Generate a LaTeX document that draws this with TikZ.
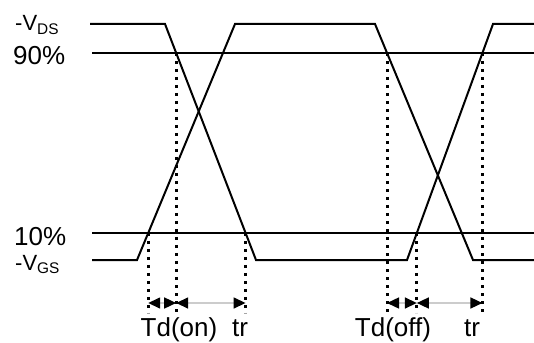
\documentclass[tikz,border=0pt]{standalone}
\usepackage{tkz-euclide}
\usepackage{fontspec}
\setmainfont{Liberation Sans}
\usetikzlibrary{arrows.meta}

\tikzset{
    wave/.style = {line width=2pt, line join=miter},
    dotline/.style = {line width=3pt, dash pattern=on 3pt off 5pt},
    span/.style = {line width=1.5pt, gray!40, {Triangle[length=12pt, width=11pt, black]}-{Triangle[length=12pt, width=11pt, black]}},
    lbl/.style = {inner sep=0pt, font=\fontsize{26}{30}\selectfont},
    vlbl/.style = {inner sep=0pt, font=\fontsize{22}{26}\selectfont},
}

\begin{document}
\begin{tikzpicture}[x=1pt, y=-1pt]
    \useasboundingbox (0,0) rectangle (534,342);
    \tkzDefPoints{90/24/D1, 165/24/D2, 256/260/D3, 407/260/D4, 493/24/D5, 534/24/D6}
    \tkzDefPoints{92/260/G1, 137/260/G2, 235/24/G3, 375/24/G4, 473/260/G5, 534/260/G6}
    \tkzDefPoints{92/53/H1, 534/53/H2, 92/233/L1, 534/233/L2}
    \tkzDefPoints{0/313/B, 0/303/R}
    % crossings with the 90% and 10% lines
    \coordinate (T1) at (intersection of D2--D3 and H1--H2);
    \coordinate (T2) at (intersection of G2--G3 and L1--L2);
    \coordinate (T3) at (intersection of D2--D3 and L1--L2);
    \coordinate (T4) at (intersection of G4--G5 and H1--H2);
    \coordinate (T5) at (intersection of D4--D5 and L1--L2);
    \coordinate (T6) at (intersection of D4--D5 and H1--H2);
    \draw[wave] (D1) -- (D2) -- (D3) -- (D4) -- (D5) -- (D6);
    \draw[wave] (G1) -- (G2) -- (G3) -- (G4) -- (G5) -- (G6);
    \draw[wave] (H1) -- (H2);
    \draw[wave] (L1) -- (L2);
    \foreach \p in {T1,T2,T3,T4,T5,T6}
        \draw[dotline] (\p) -- (\p |- B);
    \draw[span] (T2 |- R) -- (T1 |- R);
    \draw[span] (T1 |- R) -- (T3 |- R);
    \draw[span] (T4 |- R) -- (T5 |- R);
    \draw[span] (T5 |- R) -- (T6 |- R);
    % level labels
    \node[vlbl, anchor=base west] (vds) at (15,31) {-V\textsubscript{DS}};
    \node[lbl, anchor=base west] (p90) at (13,65) {90\%};
    \node[lbl, anchor=base west] (p10) at (14,245) {10\%};
    \node[vlbl, anchor=base west] (vgs) at (15,270) {-V\textsubscript{GS}};
    % timing labels
    \node[lbl, anchor=base] (tdon) at (179,336) {Td(on)};
    \node[lbl, anchor=base] (tron) at (240,336) {tr};
    \node[lbl, anchor=base] (tdoff) at (393,336) {Td(off)};
    \node[lbl, anchor=base] (troff) at (472,336) {tr};
\end{tikzpicture}
\end{document}
